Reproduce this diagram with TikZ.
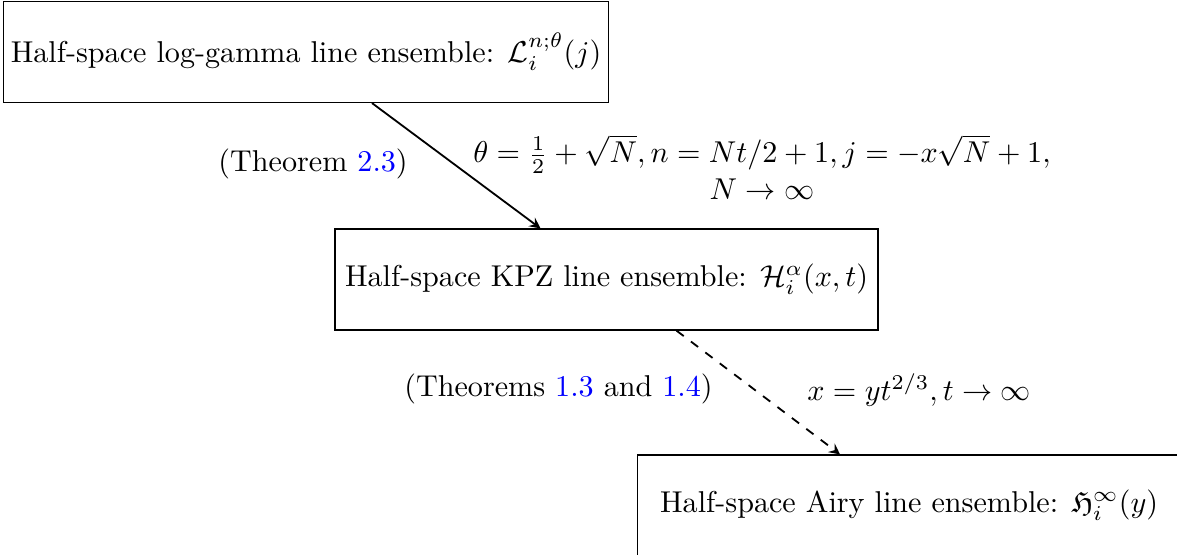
\documentclass[tikz,border=0pt]{standalone}
\usepackage{amsmath,amssymb}
\usepackage{xcolor}
\usetikzlibrary{arrows.meta, positioning, calc}

\begin{document}
\begin{tikzpicture}[>=stealth,
	ensemble/.style={draw, minimum height=1.178cm, minimum width=6.33cm, inner xsep=2.5pt},
	limit/.style={->, semithick}]
	\useasboundingbox (0,0) rectangle (13.724,-6.46);
	% the three line ensembles, one below the other
	\node[ensemble] (lg) at (3.568,-0.606)
	{Half-space log-gamma line ensemble: $\mathcal{L}_i^{n;\theta}(j)$};
	\node[ensemble] (kpz) at (7.072,-3.259)
	{Half-space KPZ line ensemble: $\mathcal{H}_i^{\alpha}(x,t)$};
	\node[ensemble] (airy) at (10.60,-5.894)
	{Half-space Airy line ensemble: $\mathfrak{H}_i^{\infty}(y)$};
	% first limit: log-gamma to KPZ
	\draw[limit] ([xshift=0.77cm]lg.south) -- ([xshift=-0.77cm]kpz.north);
	\node (thm1) at (3.65,-1.912) {(Theorem \textcolor{blue}{2.3})};
	\node[align=center] (scale1) at (8.885,-1.947)
	{$\theta=\frac{1}{2}+\sqrt{N}, n=Nt/2+1, j=-x\sqrt{N}+1,$\\ $N\to\infty$};
	% second limit: KPZ to Airy
	\draw[limit, dashed] ([xshift=0.816cm]kpz.south) -- ([xshift=-0.805cm]airy.north);
	\node (thm2) at (6.512,-4.54)
	{(Theorems \textcolor{blue}{1.3} and \textcolor{blue}{1.4})};
	\node (scale2) at (10.716,-4.547) {$x=yt^{2/3}, t\to\infty$};
\end{tikzpicture}
\end{document}
